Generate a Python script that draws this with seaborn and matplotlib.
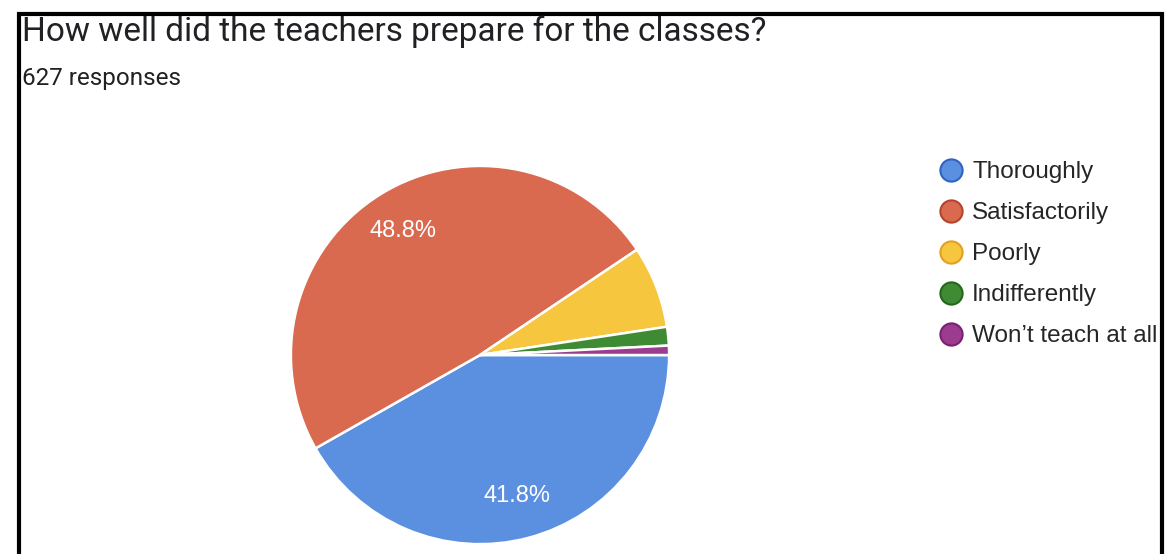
#!/usr/bin/env python

import matplotlib
matplotlib.use('Agg')
import matplotlib.pyplot as plt
from matplotlib.lines import Line2D
from matplotlib.patches import Rectangle
import seaborn as sns

# survey answers, 627 responses total
answers = ['Thoroughly', 'Satisfactorily', 'Poorly', 'Indifferently', 'Won\u2019t teach at all']
counts = [262, 306, 44, 10, 5]
colors = ['#5b8fe0', '#d9694f', '#f6c63f', '#3f8b34', '#9c3c8e']
edge_colors = ['#2f63c0', '#b5442f', '#e0a020', '#25661f', '#7a2270']

title = 'How well did the teachers prepare for the classes?'
subtitle = '627 responses'


def pct_label(pct):
    # google forms only writes labels on the big slices
    return f'{pct:.1f}%' if pct > 10 else ''


def main():
    sns.set_theme(style='white')
    plt.rcParams['font.family'] = ['Liberation Sans', 'DejaVu Sans']

    fig = plt.figure(figsize=(11.7, 5.54), dpi=100)
    fig.patch.set_facecolor('white')

    ax = fig.add_axes([0.247, 0.0144, 0.3265, 0.6895])
    wedges, texts, autotexts = ax.pie(
        counts,
        colors=colors,
        startangle=0,
        counterclock=False,
        autopct=pct_label,
        pctdistance=0.77,
        wedgeprops={'edgecolor': 'white', 'linewidth': 1.8},
        textprops={'color': 'white', 'fontsize': 17},
    )
    ax.set_xlim(-1.01, 1.01)
    ax.set_ylim(-1.01, 1.01)
    ax.set_aspect('equal')

    fig.text(0.019, 0.942, title, fontsize=24, family=['Roboto', 'DejaVu Sans'],
             color='#202124', va='center')
    fig.text(0.019, 0.858, subtitle, fontsize=17.5, family=['Roboto', 'DejaVu Sans'],
             color='#202124', va='center')

    handles = [
        Line2D([0], [0], marker='o', linestyle='', markersize=16,
               markerfacecolor=c, markeredgecolor=e, markeredgewidth=1.5)
        for c, e in zip(colors, edge_colors)
    ]
    fig.legend(
        handles, answers,
        loc='upper left',
        bbox_to_anchor=(0.782, 0.748),
        frameon=False,
        fontsize=17.5,
        handletextpad=0.25,
        labelspacing=0.78,
        handlelength=1.2,
    )

    # black frame from the printed screenshot
    fig.add_artist(Rectangle((0.016, -0.05), 0.977, 1.025, transform=fig.transFigure,
                             fill=False, edgecolor='black', linewidth=3))

    fig.savefig('out.png', dpi=100)


if __name__ == '__main__':
    main()
